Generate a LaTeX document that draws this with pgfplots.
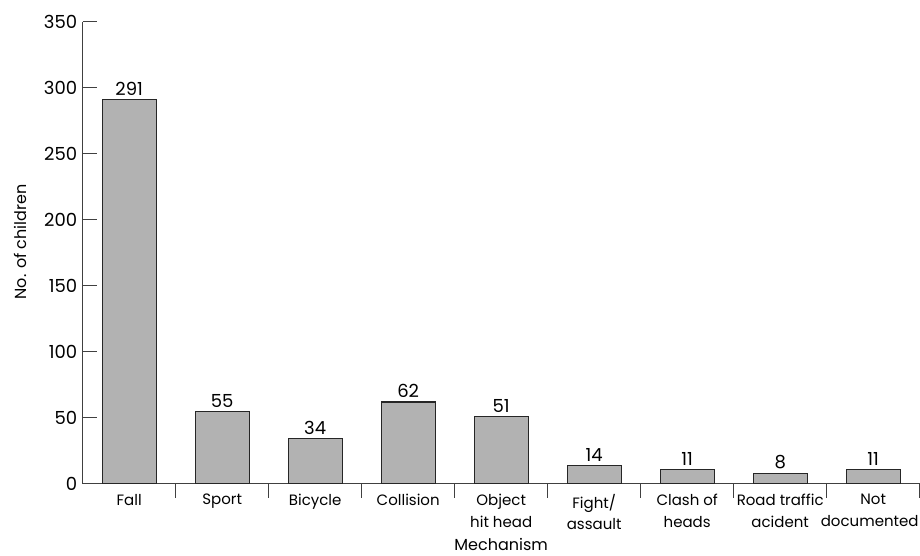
\documentclass[border=0pt]{standalone}
\usepackage{fontspec}
\setmainfont{Poppins}
\usepackage{pgfplots}
\pgfplotsset{compat=1.18}

\begin{document}
\begin{tikzpicture}[font=\fontsize{16pt}{21.5pt}\selectfont]
\useasboundingbox (0,0) rectangle (920pt,556pt);
\begin{axis}[
    at={(82.7pt,72.3pt)}, anchor=south west,
    scale only axis, width=837pt, height=461.7pt,
    xmin=-0.5, xmax=8.5, ymin=0, ymax=350,
    axis lines*=left,
    xtick pos=lower, ytick pos=left,
    axis line style={-, draw=black!75, line width=1pt},
    every tick/.style={draw=black!75, line width=1pt},
    tick align=inside,
    major tick length=14pt, minor tick length=14pt,
    ytick={0,50,...,350},
    xtick={0,...,8},
    major x tick style={draw=none},
    minor xtick={0.5,1.5,...,8.5},
    xticklabels={Fall, Sport, Bicycle, Collision, {Object\\hit head}, {Fight/\\assault}, {Clash of\\heads}, {Road traffic\\acident}, {Not\\documented\hspace*{7pt}}},
    xticklabel style={align=center, anchor=north, yshift=7pt, font=\fontsize{15pt}{21.5pt}\selectfont},
    yticklabel style={xshift=-2pt, font=\fontsize{18pt}{21pt}\selectfont},
    /pgf/number format/assume math mode=true,
    every axis y label/.style={at={(axis description cs:0,0.5)}, xshift=-62.7pt, yshift=11pt, rotate=90, anchor=center},
    every axis x label/.style={at={(axis description cs:0.5,0)}, yshift=-66.5pt, anchor=base},
    ylabel={No. of children},
    xlabel={Mechanism},
    ybar, bar width=54pt,
    nodes near coords,
    every node near coord/.style={anchor=south, yshift=0pt, font=\fontsize{18pt}{21pt}\selectfont},
]
\addplot[fill=black!30, draw=black!85, line width=1.2pt] coordinates {
    (0,291) (1,55) (2,34) (3,62) (4,51) (5,14) (6,11) (7,8) (8,11)
};
\end{axis}
\end{tikzpicture}
\end{document}
